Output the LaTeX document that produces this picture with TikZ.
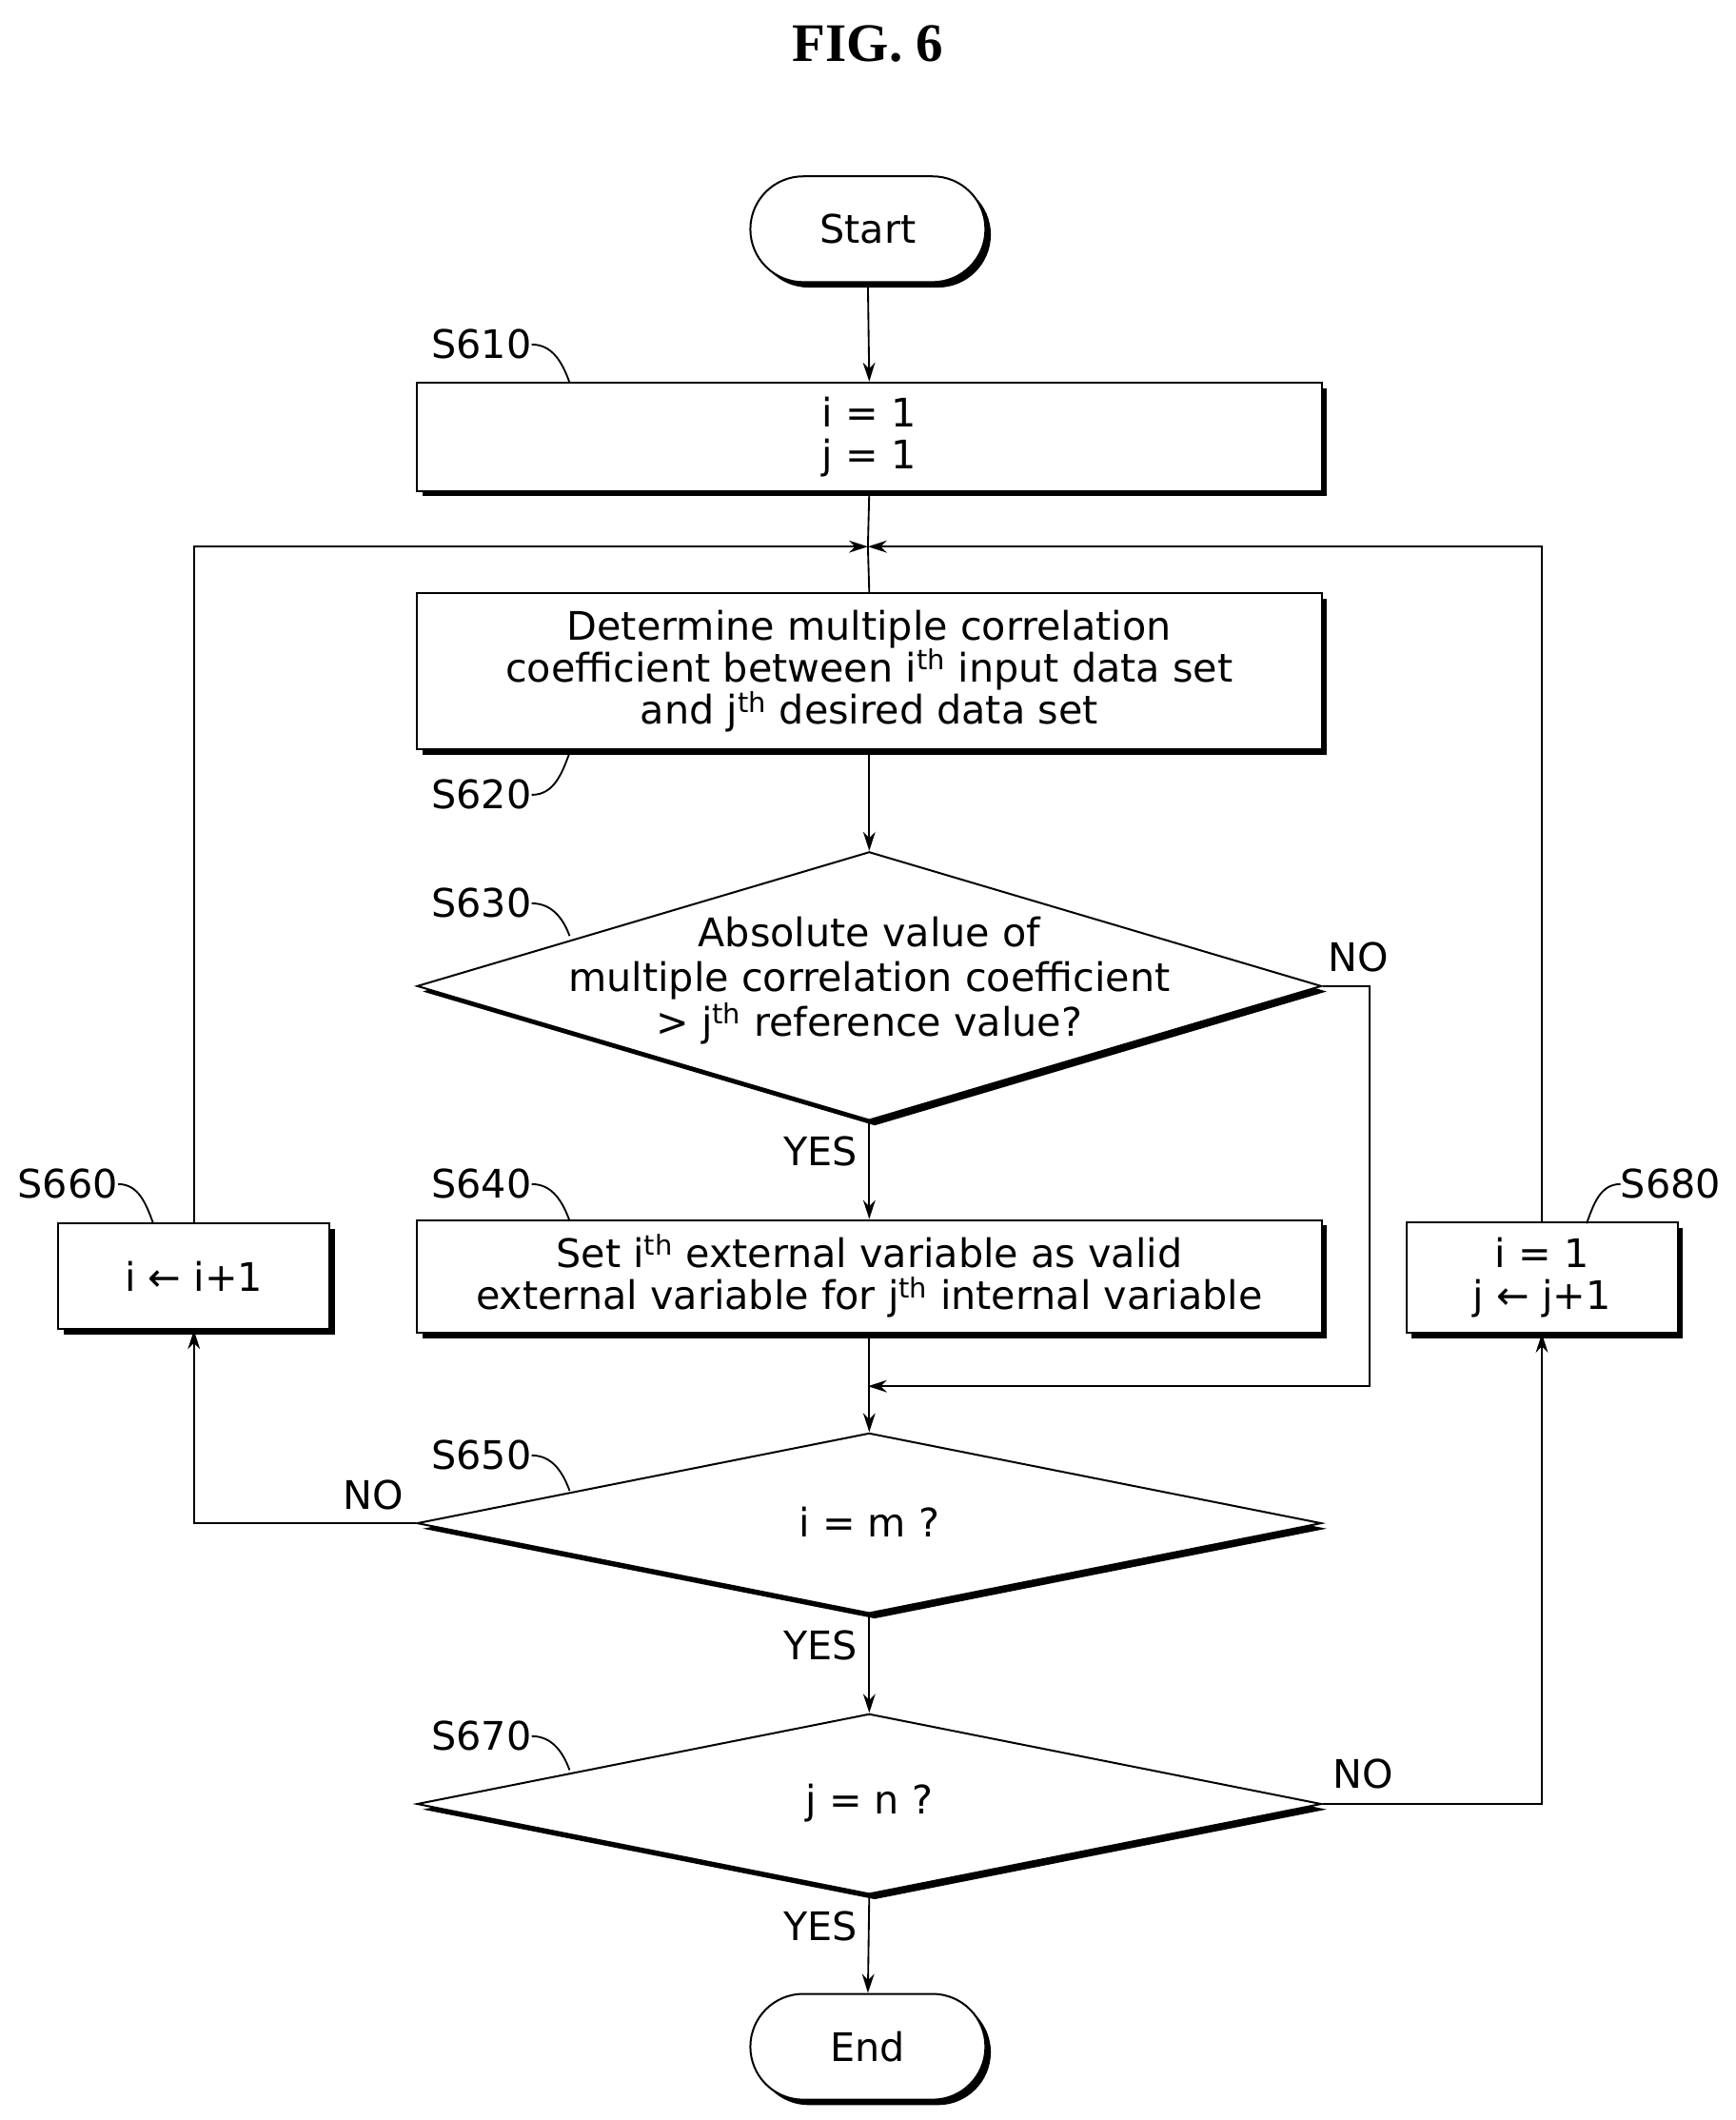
\documentclass[tikz,border=0pt]{standalone}
\usepackage{fontspec}
\setmainfont{DejaVu Sans}
\newfontfamily\titlefont{Liberation Serif}
\usetikzlibrary{shapes.geometric,shapes.misc,shadows,arrows.meta}
\begin{document}
\begin{tikzpicture}[x=1pt,y=-1pt,
  every node/.style={font=\fontsize{29}{35}\selectfont},
  shd/.style={drop shadow={shadow xshift=4pt,shadow yshift=-4pt,fill=black,opacity=1}},
  box/.style={draw,line width=1.4,fill=white,shd,align=center,inner sep=0},
  dia/.style={diamond,draw,line width=1.4,fill=white,shd,inner sep=0,minimum width=667pt},
  term/.style={rounded rectangle,draw,line width=1.4,fill=white,shd,minimum width=180pt,minimum height=78pt},
  ln/.style={line width=1.3},
  arr/.style={ln,-{Stealth[length=14pt,width=9pt]}},
  lab/.style={inner sep=0}]
\useasboundingbox (0,0) rectangle (1280,1563);
\node[font=\titlefont\bfseries\fontsize{40}{44}\selectfont] (title) at (640,32) {FIG. 6};
\node[term] (start) at (640,169) {Start};
\node[box,minimum width=667pt,minimum height=80pt] (s610) at (641,322) {i = 1\\[-4pt]j = 1};
\coordinate (m) at (640,403);
\node[box,minimum width=667pt,minimum height=115pt] (s620) at (641,495) {Determine multiple correlation\\[-4pt]coefficient between i\textsuperscript{th} input data set\\[-4pt]and j\textsuperscript{th} desired data set};
\node[dia,minimum height=198pt] (d630) at (641,727) {};
\node at (641,723) [align=center] {Absolute value of\\[-2pt]multiple correlation coefficient\\[-2pt]> j\textsuperscript{th} reference value?};
\node[box,minimum width=667pt,minimum height=83pt] (s640) at (641,941) {Set i\textsuperscript{th} external variable as valid\\[-4pt]external variable for j\textsuperscript{th} internal variable};
\coordinate (j) at (640,1022);
\node[dia,minimum height=133pt] (d650) at (641,1123) {};
\node at (641,1122) {i = m ?};
\node[dia,minimum height=133pt] (d670) at (641,1330) {};
\node at (641,1329) {j = n ?};
\node[term] (end) at (640,1509) {End};
\node[box,minimum width=200pt,minimum height=78pt] (s660) at (143,941) {i ← i+1};
\node[box,minimum width=200pt,minimum height=81pt] (s680) at (1137,942) {i = 1\\[-4pt]j ← j+1};
% connectors
\draw[arr] (start.south) -- (s610.north);
\draw[ln] (s610.south) -- (m) -- (s620.north);
\draw[arr] (s620.south) -- (d630.north);
\draw[arr] (d630.south) -- (s640.north);
\draw[arr] (s640.south) -- (d650.north);
\draw[arr] (d630.east) -- (1010,727) |- (j);
\draw[arr] (d650.south) -- (d670.north);
\draw[arr] (d670.south) -- (end.north);
\draw[arr] (d650.west) -| (s660.south);
\draw[arr] (s660.north) |- (m);
\draw[arr] (d670.east) -| (s680.south);
\draw[arr] (s680.north) |- (m);
% yes/no
\node (y1) at (605,849) {YES};
\node (y2) at (605,1213) {YES};
\node (y3) at (605,1420) {YES};
\node (n1) at (1002,706) {NO};
\node (n2) at (275,1102) {NO};
\node (n3) at (1005,1308) {NO};
% step labels
\node[lab] (l610) at (355,254) {S610};
\node[lab] (l620) at (355,586) {S620};
\node[lab] (l630) at (355,666) {S630};
\node[lab] (l640) at (355,873) {S640};
\node[lab] (l650) at (355,1073) {S650};
\node[lab] (l660) at (50,873) {S660};
\node[lab] (l670) at (355,1280) {S670};
\node[lab] (l680) at (1232,873) {S680};
\draw[ln] (l610.east) to[out=0,in=110] (420,282);
\draw[ln] (l620.east) to[out=0,in=-110] (420,555);
\draw[ln] (l630.east) to[out=0,in=110] (420,690);
\draw[ln] (l640.east) to[out=0,in=110] (420,900);
\draw[ln] (l650.east) to[out=0,in=110] (420,1099);
\draw[ln] (l660.east) to[out=0,in=110] (113,902);
\draw[ln] (l670.east) to[out=0,in=110] (420,1305);
\draw[ln] (l680.west) to[out=180,in=70] (1170,902);
\end{tikzpicture}
\end{document}
